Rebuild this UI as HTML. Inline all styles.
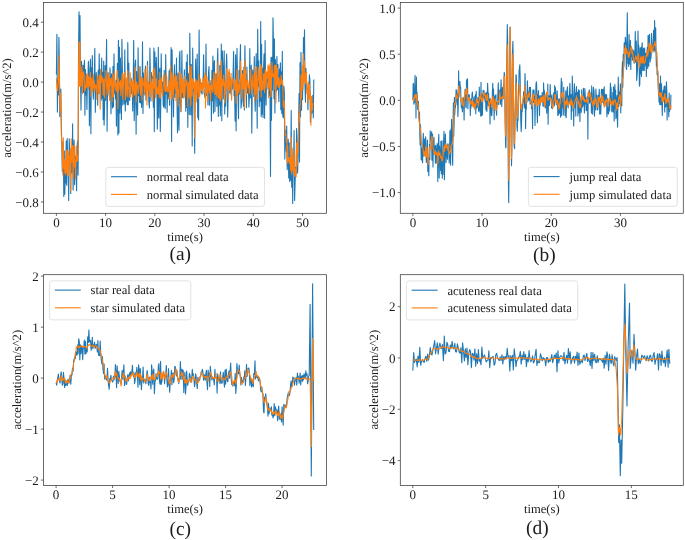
<!DOCTYPE html>
<html><head><meta charset="utf-8"><style>
html,body{margin:0;padding:0;background:#fff;overflow:hidden;}
svg{display:block;will-change:transform;}
text{font-family:"Liberation Serif", serif;fill:#1c1c1c;text-rendering:geometricPrecision;}
</style></head><body>
<svg width="685" height="540" viewBox="0 0 685 540">
<rect width="685" height="540" fill="#fff"/>
<clipPath id="c1"><rect x="43.5" y="2.5" width="283.00" height="210.80"/></clipPath>
<g clip-path="url(#c1)">
<path d="M56.4 74.6L56.9 34.2L57.4 112.1L57.9 80.7L58.4 95.0L58.9 37.2L59.4 64.3L59.8 116.6L60.3 104.8L60.8 89.1L61.3 122.2L61.8 144.2L62.3 171.2L62.8 145.4L63.3 141.9L63.8 196.4L64.3 150.7L64.8 194.3L65.3 162.5L65.8 183.0L66.2 141.1L66.7 185.2L67.2 138.5L67.7 161.6L68.2 167.1L68.7 200.4L69.2 138.8L69.7 153.5L70.2 155.9L70.7 193.4L71.2 148.4L71.7 172.6L72.2 161.8L72.6 123.9L73.1 189.9L73.6 149.2L74.1 140.0L74.6 184.7L75.1 155.9L75.6 157.9L76.1 162.5L76.6 190.7L77.1 146.1L77.6 140.9L78.1 175.1L78.5 57.8L79.0 11.7L79.5 78.9L80.0 15.5L80.5 80.3L81.0 110.1L81.5 61.4L82.0 70.8L82.5 93.5L83.0 65.4L83.5 92.4L84.0 67.4L84.5 60.4L84.9 115.1L85.4 69.6L85.9 95.0L86.4 74.1L86.9 109.5L87.4 80.0L87.9 79.6L88.4 61.4L88.9 70.1L89.4 125.7L89.9 83.1L90.4 59.3L90.9 133.7L91.3 67.8L91.8 79.5L92.3 55.5L92.8 84.8L93.3 99.2L93.8 87.2L94.3 84.3L94.8 48.3L95.3 112.2L95.8 84.8L96.3 72.6L96.8 91.0L97.3 86.7L97.7 105.2L98.2 70.2L98.7 93.5L99.2 53.9L99.7 85.3L100.2 93.2L100.7 70.0L101.2 100.2L101.7 58.0L102.2 98.2L102.7 72.3L103.2 119.6L103.7 61.1L104.1 125.1L104.6 106.6L105.1 65.6L105.6 100.3L106.1 70.2L106.6 39.6L107.1 131.3L107.6 87.8L108.1 72.8L108.6 77.3L109.1 95.2L109.6 87.3L110.0 67.7L110.5 83.1L111.0 113.7L111.5 73.7L112.0 83.4L112.5 108.0L113.0 66.3L113.5 106.7L114.0 53.7L114.5 93.5L115.0 85.8L115.5 98.9L116.0 80.3L116.4 126.1L116.9 83.9L117.4 63.2L117.9 135.0L118.4 40.3L118.9 133.1L119.4 47.1L119.9 112.9L120.4 58.1L120.9 92.5L121.4 119.6L121.9 39.4L122.4 70.7L122.8 105.1L123.3 90.4L123.8 85.3L124.3 104.0L124.8 49.7L125.3 110.9L125.8 79.6L126.3 101.6L126.8 88.6L127.3 104.6L127.8 42.6L128.3 104.7L128.8 63.1L129.2 97.5L129.7 100.4L130.2 83.6L130.7 93.2L131.2 78.2L131.7 93.6L132.2 87.1L132.7 111.0L133.2 85.1L133.7 40.3L134.2 120.8L134.7 99.4L135.2 65.0L135.6 60.1L136.1 134.3L136.6 71.5L137.1 96.4L137.6 114.9L138.1 47.7L138.6 95.5L139.1 83.8L139.6 102.5L140.1 66.5L140.6 102.9L141.1 81.9L141.6 107.4L142.0 97.4L142.5 41.9L143.0 113.5L143.5 73.1L144.0 90.2L144.5 94.7L145.0 90.9L145.5 66.0L146.0 100.2L146.5 85.2L147.0 83.4L147.5 61.2L147.9 86.3L148.4 86.4L148.9 102.6L149.4 108.0L149.9 48.1L150.4 77.4L150.9 101.1L151.4 72.6L151.9 76.2L152.4 78.2L152.9 76.9L153.4 107.3L153.9 48.0L154.3 131.6L154.8 51.8L155.3 86.4L155.8 73.7L156.3 57.2L156.8 78.4L157.3 129.1L157.8 107.2L158.3 47.2L158.8 117.9L159.3 73.4L159.8 68.1L160.3 131.5L160.7 109.8L161.2 53.7L161.7 88.4L162.2 91.8L162.7 82.1L163.2 104.8L163.7 107.2L164.2 70.4L164.7 104.6L165.2 108.6L165.7 54.5L166.2 93.9L166.7 76.7L167.1 112.3L167.6 87.5L168.1 99.0L168.6 92.2L169.1 70.8L169.6 105.3L170.1 68.7L170.6 83.5L171.1 47.6L171.6 141.5L172.1 49.7L172.6 99.4L173.1 85.4L173.5 116.8L174.0 77.6L174.5 64.7L175.0 97.5L175.5 83.5L176.0 93.5L176.5 58.1L177.0 101.4L177.5 132.7L178.0 73.0L178.5 119.3L179.0 130.2L179.4 56.2L179.9 51.3L180.4 102.3L180.9 111.8L181.4 91.4L181.9 50.5L182.4 97.4L182.9 87.4L183.4 88.2L183.9 84.9L184.4 69.8L184.9 85.0L185.4 88.9L185.8 111.3L186.3 62.4L186.8 107.5L187.3 54.6L187.8 127.3L188.3 73.2L188.8 84.9L189.3 114.5L189.8 33.2L190.3 77.5L190.8 114.9L191.3 64.3L191.8 88.3L192.2 145.9L192.7 48.0L193.2 91.1L193.7 84.0L194.2 110.5L194.7 153.3L195.2 86.9L195.7 59.1L196.2 94.5L196.7 90.8L197.2 54.0L197.7 117.6L198.2 87.6L198.6 119.9L199.1 30.0L199.6 85.8L200.1 79.1L200.6 83.8L201.1 92.4L201.6 83.1L202.1 94.3L202.6 87.3L203.1 82.4L203.6 54.8L204.1 93.5L204.6 94.4L205.0 97.6L205.5 92.1L206.0 44.0L206.5 95.6L207.0 91.0L207.5 94.1L208.0 105.0L208.5 73.2L209.0 66.5L209.5 105.2L210.0 85.6L210.5 87.6L211.0 80.6L211.4 120.9L211.9 70.4L212.4 100.8L212.9 56.0L213.4 113.2L213.9 63.6L214.4 60.6L214.9 111.6L215.4 94.3L215.9 73.8L216.4 87.9L216.9 106.5L217.3 63.0L217.8 48.5L218.3 116.5L218.8 86.4L219.3 104.9L219.8 65.2L220.3 115.8L220.8 92.8L221.3 44.0L221.8 120.7L222.3 50.7L222.8 66.6L223.3 99.0L223.7 76.7L224.2 50.7L224.7 114.0L225.2 95.1L225.7 106.1L226.2 66.9L226.7 54.1L227.2 83.4L227.7 117.1L228.2 91.0L228.7 84.7L229.2 72.2L229.7 92.9L230.1 77.6L230.6 81.2L231.1 94.8L231.6 81.7L232.1 79.8L232.6 89.1L233.1 72.9L233.6 51.3L234.1 95.8L234.6 90.9L235.1 121.0L235.6 54.8L236.1 130.7L236.5 89.6L237.0 48.4L237.5 80.3L238.0 96.5L238.5 118.7L239.0 70.4L239.5 94.0L240.0 62.1L240.5 44.5L241.0 108.3L241.5 103.5L242.0 99.1L242.5 70.5L242.9 87.2L243.4 106.3L243.9 67.0L244.4 109.9L244.9 45.8L245.4 75.6L245.9 74.5L246.4 107.8L246.9 67.0L247.4 93.2L247.9 90.4L248.4 86.1L248.9 107.1L249.3 97.9L249.8 48.6L250.3 97.9L250.8 76.7L251.3 65.2L251.8 133.1L252.3 78.2L252.8 69.9L253.3 77.5L253.8 96.4L254.3 56.6L254.8 91.7L255.2 111.2L255.7 87.0L256.2 53.6L256.7 82.7L257.2 128.2L257.7 29.2L258.2 86.2L258.7 60.7L259.2 106.6L259.7 82.6L260.2 101.1L260.7 21.5L261.2 116.6L261.6 44.5L262.1 114.1L262.6 68.3L263.1 117.4L263.6 66.5L264.1 53.8L264.6 118.3L265.1 40.5L265.6 85.4L266.1 105.1L266.6 75.9L267.1 81.7L267.6 73.4L268.0 88.7L268.5 88.5L269.0 73.5L269.5 95.3L270.0 91.5L270.5 176.5L271.0 57.5L271.5 120.3L272.0 57.0L272.5 90.1L273.0 17.7L273.5 45.9L274.0 98.6L274.4 38.7L274.9 113.0L275.4 59.6L275.9 87.7L276.4 91.4L276.9 56.6L277.4 89.7L277.9 64.5L278.4 88.1L278.9 101.6L279.4 69.1L279.9 78.3L280.4 62.7L280.8 109.7L281.3 71.9L281.8 113.4L282.3 51.3L282.8 116.1L283.3 117.9L283.8 86.1L284.3 91.5L284.8 158.9L285.3 130.2L285.8 134.7L286.3 151.3L286.7 126.0L287.2 169.6L287.7 161.3L288.2 139.3L288.7 178.0L289.2 142.8L289.7 181.4L290.2 171.1L290.7 180.3L291.2 110.6L291.7 187.3L292.2 154.2L292.7 203.4L293.1 160.0L293.6 164.6L294.1 130.5L294.6 200.4L295.1 182.2L295.6 167.4L296.1 174.3L296.6 128.6L297.1 144.9L297.6 173.0L298.1 156.6L298.6 123.4L299.1 93.4L299.5 162.0L300.0 62.6L300.5 116.8L301.0 52.2L301.5 110.2L302.0 71.7L302.5 99.6L303.0 75.4L303.5 37.6L304.0 70.3L304.5 29.7L305.0 86.6L305.5 102.3L305.9 68.4L306.4 80.5L306.9 87.9L307.4 90.3L307.9 109.8L308.4 82.9L308.9 95.2L309.4 74.7L309.9 80.4L310.4 122.2L310.9 114.3L311.4 97.9L311.9 113.3L312.3 109.1L312.8 95.4L313.3 117.8L313.8 79.5" fill="none" stroke="#1f77b4" stroke-width="1.1" stroke-linejoin="round" stroke-linecap="butt"/>
<path d="M56.4 78.0L56.9 87.1L57.4 90.8L57.9 86.0L58.4 82.8L58.9 55.1L59.4 76.7L59.8 100.8L60.3 111.9L60.8 93.0L61.3 134.6L61.8 141.0L62.3 155.0L62.8 174.8L63.3 137.9L63.8 168.1L64.3 158.9L64.8 172.9L65.3 161.5L65.8 175.0L66.2 151.0L66.7 172.2L67.2 149.7L67.7 175.6L68.2 152.1L68.7 175.9L69.2 156.3L69.7 161.7L70.2 149.0L70.7 191.1L71.2 138.9L71.7 162.3L72.2 156.9L72.6 145.4L73.1 177.5L73.6 154.7L74.1 145.1L74.6 167.0L75.1 160.1L75.6 178.9L76.1 146.3L76.6 161.8L77.1 155.2L77.6 160.8L78.1 154.1L78.5 71.2L79.0 41.7L79.5 86.3L80.0 42.3L80.5 86.7L81.0 85.5L81.5 73.5L82.0 66.3L82.5 93.8L83.0 74.6L83.5 71.7L84.0 74.7L84.5 86.1L84.9 91.0L85.4 88.7L85.9 84.8L86.4 74.0L86.9 87.4L87.4 83.2L87.9 74.7L88.4 89.2L88.9 76.9L89.4 86.2L89.9 81.9L90.4 72.2L90.9 96.2L91.3 84.3L91.8 78.1L92.3 87.1L92.8 92.1L93.3 74.4L93.8 87.6L94.3 81.0L94.8 91.1L95.3 84.7L95.8 87.1L96.3 85.5L96.8 99.5L97.3 76.4L97.7 79.9L98.2 82.4L98.7 92.9L99.2 74.9L99.7 78.4L100.2 109.2L100.7 69.0L101.2 83.0L101.7 75.9L102.2 77.2L102.7 81.1L103.2 95.3L103.7 78.7L104.1 88.8L104.6 97.8L105.1 78.5L105.6 80.9L106.1 70.5L106.6 85.9L107.1 94.8L107.6 83.9L108.1 72.6L108.6 90.2L109.1 75.4L109.6 100.5L110.0 78.2L110.5 85.4L111.0 84.1L111.5 78.1L112.0 102.0L112.5 90.3L113.0 74.0L113.5 96.8L114.0 87.4L114.5 71.3L115.0 86.4L115.5 86.7L116.0 90.4L116.4 83.6L116.9 91.9L117.4 70.5L117.9 108.8L118.4 78.0L118.9 90.0L119.4 83.6L119.9 82.5L120.4 80.6L120.9 95.6L121.4 87.8L121.9 78.5L122.4 73.1L122.8 99.2L123.3 87.0L123.8 73.5L124.3 77.3L124.8 72.4L125.3 100.1L125.8 82.7L126.3 77.7L126.8 94.6L127.3 96.9L127.8 70.5L128.3 86.6L128.8 89.4L129.2 97.4L129.7 92.4L130.2 72.8L130.7 96.5L131.2 81.4L131.7 84.9L132.2 81.9L132.7 96.8L133.2 79.8L133.7 85.3L134.2 91.9L134.7 95.1L135.2 67.1L135.6 85.7L136.1 102.1L136.6 81.8L137.1 88.1L137.6 85.3L138.1 93.6L138.6 88.4L139.1 83.3L139.6 67.1L140.1 86.0L140.6 95.0L141.1 78.6L141.6 77.3L142.0 100.1L142.5 78.0L143.0 80.3L143.5 84.9L144.0 83.7L144.5 95.0L145.0 69.0L145.5 77.0L146.0 92.6L146.5 82.9L147.0 104.9L147.5 65.5L147.9 90.6L148.4 81.5L148.9 86.1L149.4 96.7L149.9 89.6L150.4 72.9L150.9 96.9L151.4 82.1L151.9 87.0L152.4 84.0L152.9 100.9L153.4 69.6L153.9 81.5L154.3 88.2L154.8 67.9L155.3 95.4L155.8 97.9L156.3 78.2L156.8 89.7L157.3 93.6L157.8 87.5L158.3 94.0L158.8 80.5L159.3 97.1L159.8 72.4L160.3 98.3L160.7 93.2L161.2 78.1L161.7 90.5L162.2 89.6L162.7 95.8L163.2 82.3L163.7 75.7L164.2 75.6L164.7 89.1L165.2 91.7L165.7 88.1L166.2 72.9L166.7 91.5L167.1 92.1L167.6 88.5L168.1 86.8L168.6 91.4L169.1 81.4L169.6 98.7L170.1 80.1L170.6 65.5L171.1 89.4L171.6 99.9L172.1 72.8L172.6 86.0L173.1 98.4L173.5 89.2L174.0 76.0L174.5 83.8L175.0 89.0L175.5 73.8L176.0 100.8L176.5 76.2L177.0 94.2L177.5 81.9L178.0 106.3L178.5 89.5L179.0 96.9L179.4 71.9L179.9 77.0L180.4 81.5L180.9 111.2L181.4 73.8L181.9 84.5L182.4 92.7L182.9 79.1L183.4 96.8L183.9 98.4L184.4 75.8L184.9 96.4L185.4 85.0L185.8 85.8L186.3 80.5L186.8 79.8L187.3 88.8L187.8 106.8L188.3 82.3L188.8 89.9L189.3 98.0L189.8 65.5L190.3 91.8L190.8 105.5L191.3 66.5L191.8 91.2L192.2 96.1L192.7 79.0L193.2 83.0L193.7 88.8L194.2 82.0L194.7 137.5L195.2 85.5L195.7 79.1L196.2 101.9L196.7 81.7L197.2 80.7L197.7 90.3L198.2 98.6L198.6 74.0L199.1 81.1L199.6 96.5L200.1 92.6L200.6 79.7L201.1 87.0L201.6 90.9L202.1 83.7L202.6 92.0L203.1 77.8L203.6 87.8L204.1 84.5L204.6 79.8L205.0 72.6L205.5 107.9L206.0 75.7L206.5 92.6L207.0 76.7L207.5 100.7L208.0 88.4L208.5 81.0L209.0 89.4L209.5 93.0L210.0 85.0L210.5 100.8L211.0 86.1L211.4 89.7L211.9 79.2L212.4 91.2L212.9 92.6L213.4 86.8L213.9 72.1L214.4 79.5L214.9 94.5L215.4 94.2L215.9 73.6L216.4 93.7L216.9 96.6L217.3 81.3L217.8 61.8L218.3 97.4L218.8 77.3L219.3 99.0L219.8 71.1L220.3 101.3L220.8 85.3L221.3 60.4L221.8 98.8L222.3 85.4L222.8 79.4L223.3 85.1L223.7 75.1L224.2 87.4L224.7 103.0L225.2 81.1L225.7 88.1L226.2 80.2L226.7 68.2L227.2 88.4L227.7 86.9L228.2 99.0L228.7 72.5L229.2 69.4L229.7 90.5L230.1 84.9L230.6 84.0L231.1 73.3L231.6 100.1L232.1 80.0L232.6 81.4L233.1 78.3L233.6 84.5L234.1 82.4L234.6 89.7L235.1 90.2L235.6 79.7L236.1 103.1L236.5 80.2L237.0 69.4L237.5 95.5L238.0 84.3L238.5 85.3L239.0 93.1L239.5 79.8L240.0 88.9L240.5 61.3L241.0 76.4L241.5 83.3L242.0 98.9L242.5 74.1L242.9 87.4L243.4 88.7L243.9 68.4L244.4 107.8L244.9 60.8L245.4 87.7L245.9 70.3L246.4 94.4L246.9 86.5L247.4 80.5L247.9 80.7L248.4 87.6L248.9 85.1L249.3 93.4L249.8 90.7L250.3 69.3L250.8 80.9L251.3 81.8L251.8 94.6L252.3 74.5L252.8 89.3L253.3 85.7L253.8 84.3L254.3 66.9L254.8 101.8L255.2 72.8L255.7 94.5L256.2 81.9L256.7 66.9L257.2 99.0L257.7 80.4L258.2 79.3L258.7 67.8L259.2 81.8L259.7 90.7L260.2 80.0L260.7 64.1L261.2 97.1L261.6 66.6L262.1 89.6L262.6 81.6L263.1 89.4L263.6 73.9L264.1 74.0L264.6 92.5L265.1 71.4L265.6 69.3L266.1 88.1L266.6 71.9L267.1 73.7L267.6 78.2L268.0 64.9L268.5 97.7L269.0 66.2L269.5 87.8L270.0 63.9L270.5 69.0L271.0 96.6L271.5 84.6L272.0 62.2L272.5 76.2L273.0 76.7L273.5 73.9L274.0 77.5L274.4 65.6L274.9 88.9L275.4 65.1L275.9 102.8L276.4 65.2L276.9 85.2L277.4 68.6L277.9 82.5L278.4 87.5L278.9 77.5L279.4 86.8L279.9 82.9L280.4 84.7L280.8 80.7L281.3 75.1L281.8 83.8L282.3 80.4L282.8 87.3L283.3 107.2L283.8 100.7L284.3 101.9L284.8 123.8L285.3 135.5L285.8 133.7L286.3 142.2L286.7 138.8L287.2 163.1L287.7 145.8L288.2 160.9L288.7 157.6L289.2 163.3L289.7 158.1L290.2 161.3L290.7 170.4L291.2 137.0L291.7 174.4L292.2 148.1L292.7 164.2L293.1 171.9L293.6 163.8L294.1 150.9L294.6 176.0L295.1 169.4L295.6 168.7L296.1 176.9L296.6 143.0L297.1 165.9L297.6 140.2L298.1 152.8L298.6 132.1L299.1 113.5L299.5 121.2L300.0 104.5L300.5 104.8L301.0 74.9L301.5 98.0L302.0 74.6L302.5 65.6L303.0 89.5L303.5 54.0L304.0 83.3L304.5 61.1L305.0 82.1L305.5 83.3L305.9 73.6L306.4 72.6L306.9 93.5L307.4 89.7L307.9 103.7L308.4 82.1L308.9 99.6L309.4 84.3L309.9 98.3L310.4 93.2L310.9 125.3L311.4 96.4L311.9 98.3L312.3 110.8L312.8 104.5L313.3 103.7L313.8 103.8" fill="none" stroke="#ff7f0e" stroke-width="1.1" stroke-linejoin="round" stroke-linecap="butt"/>
</g>
<rect x="105.8" y="167.4" width="158.67" height="39.0" rx="2.5" fill="#fff" fill-opacity="0.8" stroke="#dadada" stroke-width="0.8"/>
<line x1="111.0" y1="176.70" x2="137.0" y2="176.70" stroke="#1f77b4" stroke-width="1.1"/>
<text x="146.8" y="181.00" font-size="12.6">normal real data</text>
<line x1="111.0" y1="194.40" x2="137.0" y2="194.40" stroke="#ff7f0e" stroke-width="1.1"/>
<text x="146.8" y="198.70" font-size="12.6">normal simulated data</text>
<rect x="43.5" y="2.5" width="283.00" height="210.80" fill="none" stroke="#3a3a3a" stroke-width="0.75"/>
<line x1="56.40" y1="213.3" x2="56.40" y2="215.90" stroke="#3a3a3a" stroke-width="0.75"/>
<text x="56.40" y="226.70" font-size="13.0" text-anchor="middle">0</text>
<line x1="105.62" y1="213.3" x2="105.62" y2="215.90" stroke="#3a3a3a" stroke-width="0.75"/>
<text x="105.62" y="226.70" font-size="13.0" text-anchor="middle">10</text>
<line x1="154.84" y1="213.3" x2="154.84" y2="215.90" stroke="#3a3a3a" stroke-width="0.75"/>
<text x="154.84" y="226.70" font-size="13.0" text-anchor="middle">20</text>
<line x1="204.06" y1="213.3" x2="204.06" y2="215.90" stroke="#3a3a3a" stroke-width="0.75"/>
<text x="204.06" y="226.70" font-size="13.0" text-anchor="middle">30</text>
<line x1="253.28" y1="213.3" x2="253.28" y2="215.90" stroke="#3a3a3a" stroke-width="0.75"/>
<text x="253.28" y="226.70" font-size="13.0" text-anchor="middle">40</text>
<line x1="302.50" y1="213.3" x2="302.50" y2="215.90" stroke="#3a3a3a" stroke-width="0.75"/>
<text x="302.50" y="226.70" font-size="13.0" text-anchor="middle">50</text>
<line x1="40.90" y1="22.18" x2="43.5" y2="22.18" stroke="#3a3a3a" stroke-width="0.75"/>
<text x="38.80" y="26.78" font-size="13.0" text-anchor="end">0.4</text>
<line x1="40.90" y1="52.14" x2="43.5" y2="52.14" stroke="#3a3a3a" stroke-width="0.75"/>
<text x="38.80" y="56.74" font-size="13.0" text-anchor="end">0.2</text>
<line x1="40.90" y1="82.10" x2="43.5" y2="82.10" stroke="#3a3a3a" stroke-width="0.75"/>
<text x="38.80" y="86.70" font-size="13.0" text-anchor="end">0.0</text>
<line x1="40.90" y1="112.06" x2="43.5" y2="112.06" stroke="#3a3a3a" stroke-width="0.75"/>
<text x="38.80" y="116.66" font-size="13.0" text-anchor="end">−0.2</text>
<line x1="40.90" y1="142.02" x2="43.5" y2="142.02" stroke="#3a3a3a" stroke-width="0.75"/>
<text x="38.80" y="146.62" font-size="13.0" text-anchor="end">−0.4</text>
<line x1="40.90" y1="171.98" x2="43.5" y2="171.98" stroke="#3a3a3a" stroke-width="0.75"/>
<text x="38.80" y="176.58" font-size="13.0" text-anchor="end">−0.6</text>
<line x1="40.90" y1="201.94" x2="43.5" y2="201.94" stroke="#3a3a3a" stroke-width="0.75"/>
<text x="38.80" y="206.54" font-size="13.0" text-anchor="end">−0.8</text>
<text x="185" y="241.0" font-size="12.6" text-anchor="middle">time(s)</text>
<text transform="translate(10.8 108.0) rotate(-90)" font-size="12.6" text-anchor="middle">acceleration(m/s^2)</text>
<text x="180.3" y="260.3" font-size="19.4" text-anchor="middle">(a)</text>
<clipPath id="c2"><rect x="400.3" y="2.5" width="283.00" height="210.80"/></clipPath>
<g clip-path="url(#c2)">
<path d="M412.9 99.9L413.2 83.3L413.6 84.1L413.9 104.2L414.3 100.8L414.6 102.8L415.0 75.4L415.3 96.4L415.7 86.8L416.0 117.9L416.4 77.0L416.7 99.2L417.1 92.2L417.4 104.3L417.7 109.5L418.1 102.5L418.4 101.2L418.8 116.6L419.1 119.1L419.5 112.0L419.8 134.1L420.2 145.2L420.5 124.6L420.9 141.0L421.2 159.9L421.5 149.1L421.9 147.8L422.2 157.9L422.6 162.7L422.9 143.7L423.3 133.3L423.6 148.7L424.0 156.1L424.3 142.3L424.7 138.7L425.0 152.7L425.4 142.5L425.7 136.9L426.0 153.8L426.4 162.4L426.7 148.1L427.1 150.2L427.4 140.0L427.8 171.5L428.1 164.2L428.5 165.4L428.8 175.8L429.2 150.6L429.5 144.3L429.8 159.5L430.2 130.9L430.5 137.0L430.9 138.4L431.2 140.1L431.6 131.8L431.9 160.2L432.3 133.9L432.6 135.2L433.0 166.9L433.3 140.7L433.7 149.6L434.0 137.4L434.3 154.3L434.7 149.9L435.0 146.4L435.4 163.3L435.7 145.3L436.1 155.5L436.4 148.9L436.8 163.2L437.1 143.5L437.5 149.7L437.8 181.5L438.1 149.4L438.5 141.3L438.8 134.4L439.2 177.9L439.5 146.1L439.9 151.5L440.2 158.8L440.6 170.5L440.9 141.3L441.3 173.8L441.6 150.2L442.0 140.7L442.3 178.2L442.6 161.5L443.0 174.5L443.3 154.4L443.7 138.0L444.0 131.4L444.4 179.7L444.7 163.4L445.1 146.1L445.4 134.0L445.8 148.2L446.1 162.4L446.4 148.2L446.8 151.4L447.1 153.1L447.5 159.1L447.8 143.8L448.2 144.1L448.5 148.5L448.9 149.3L449.2 163.1L449.6 152.8L449.9 130.9L450.3 148.9L450.6 165.1L450.9 129.2L451.3 139.6L451.6 119.2L452.0 145.7L452.3 152.4L452.7 165.2L453.0 129.4L453.4 102.9L453.7 136.3L454.1 123.7L454.4 97.3L454.7 114.9L455.1 107.2L455.4 107.5L455.8 100.4L456.1 89.5L456.5 101.3L456.8 90.8L457.2 104.8L457.5 94.2L457.9 116.5L458.2 106.8L458.6 70.8L458.9 96.7L459.2 86.2L459.6 87.9L459.9 81.4L460.3 88.0L460.6 87.3L461.0 100.1L461.3 107.4L461.7 107.8L462.0 105.3L462.4 111.8L462.7 105.9L463.0 101.3L463.4 97.8L463.7 103.8L464.1 119.9L464.4 101.1L464.8 98.1L465.1 89.3L465.5 94.5L465.8 106.9L466.2 107.7L466.5 79.9L466.9 92.7L467.2 81.8L467.5 78.7L467.9 108.7L468.2 96.4L468.6 95.7L468.9 94.7L469.3 94.9L469.6 98.3L470.0 98.6L470.3 115.6L470.7 102.0L471.0 107.9L471.3 99.1L471.7 105.1L472.0 94.1L472.4 92.0L472.7 97.2L473.1 97.1L473.4 99.4L473.8 104.9L474.1 102.0L474.5 105.4L474.8 96.4L475.2 100.2L475.5 94.5L475.8 113.8L476.2 91.3L476.5 108.1L476.9 107.8L477.2 102.4L477.6 106.1L477.9 97.4L478.3 106.2L478.6 111.2L479.0 108.9L479.3 87.0L479.6 99.9L480.0 112.2L480.3 100.3L480.7 116.1L481.0 82.2L481.4 115.8L481.7 95.5L482.1 94.8L482.4 115.1L482.8 97.3L483.1 90.2L483.5 95.6L483.8 97.7L484.1 90.7L484.5 98.7L484.8 96.9L485.2 101.6L485.5 93.9L485.9 109.9L486.2 92.3L486.6 105.5L486.9 111.4L487.3 96.6L487.6 83.2L487.9 90.6L488.3 105.6L488.6 93.3L489.0 105.0L489.3 101.6L489.7 99.4L490.0 123.9L490.4 98.4L490.7 110.8L491.1 107.4L491.4 115.3L491.8 115.7L492.1 109.9L492.4 92.0L492.8 83.4L493.1 100.6L493.5 89.3L493.8 103.0L494.2 119.8L494.5 98.8L494.9 95.8L495.2 104.7L495.6 97.3L495.9 94.5L496.2 109.1L496.6 115.3L496.9 102.6L497.3 102.5L497.6 103.9L498.0 90.3L498.3 82.8L498.7 104.6L499.0 93.3L499.4 90.8L499.7 93.1L500.1 89.7L500.4 104.3L500.7 92.8L501.1 79.8L501.4 92.2L501.8 106.6L502.1 94.2L502.5 87.5L502.8 96.6L503.2 99.0L503.5 84.6L503.9 84.0L504.2 72.3L504.6 74.8L504.9 99.2L505.2 122.6L505.6 146.1L505.9 147.9L506.3 115.6L506.6 78.6L507.0 46.4L507.3 24.6L507.7 42.4L508.0 110.9L508.4 181.9L508.7 202.6L509.0 171.7L509.4 115.8L509.7 53.5L510.1 27.0L510.4 37.8L510.8 79.4L511.1 134.9L511.5 165.8L511.8 151.5L512.2 102.6L512.5 51.9L512.9 41.3L513.2 64.6L513.5 96.9L513.9 132.8L514.2 146.5L514.6 148.6L514.9 124.8L515.3 109.2L515.6 91.9L516.0 74.7L516.3 75.2L516.7 95.8L517.0 127.2L517.3 131.3L517.7 116.5L518.0 120.4L518.4 100.5L518.7 86.5L519.1 71.2L519.4 68.5L519.8 64.7L520.1 75.0L520.5 103.9L520.8 120.7L521.2 131.6L521.5 124.7L521.8 108.8L522.2 111.6L522.5 105.5L522.9 100.7L523.2 100.8L523.6 91.8L523.9 99.0L524.3 108.0L524.6 98.2L525.0 73.6L525.3 87.4L525.6 128.6L526.0 101.8L526.3 109.2L526.7 94.0L527.0 102.1L527.4 80.7L527.7 90.9L528.1 91.3L528.4 98.5L528.8 100.8L529.1 96.9L529.5 87.2L529.8 94.9L530.1 103.9L530.5 87.4L530.8 98.4L531.2 101.1L531.5 108.4L531.9 106.1L532.2 106.8L532.6 128.7L532.9 90.0L533.3 94.6L533.6 102.5L533.9 89.7L534.3 95.9L534.6 96.6L535.0 125.5L535.3 102.7L535.7 94.9L536.0 84.0L536.4 81.7L536.7 85.9L537.1 112.1L537.4 122.7L537.8 94.6L538.1 100.1L538.4 90.6L538.8 101.6L539.1 98.1L539.5 115.6L539.8 95.8L540.2 104.9L540.5 96.8L540.9 95.7L541.2 101.5L541.6 97.1L541.9 100.5L542.2 92.6L542.6 95.3L542.9 105.9L543.3 106.3L543.6 82.7L544.0 101.4L544.3 90.3L544.7 96.4L545.0 106.1L545.4 108.0L545.7 99.1L546.1 97.7L546.4 94.1L546.7 113.2L547.1 106.4L547.4 101.3L547.8 84.1L548.1 124.3L548.5 95.9L548.8 105.8L549.2 96.0L549.5 105.3L549.9 96.7L550.2 84.5L550.5 96.8L550.9 96.0L551.2 96.6L551.6 108.0L551.9 94.8L552.3 102.5L552.6 108.6L553.0 100.7L553.3 102.7L553.7 92.7L554.0 100.8L554.4 105.7L554.7 85.6L555.0 90.3L555.4 87.5L555.7 94.2L556.1 101.5L556.4 104.6L556.8 103.2L557.1 90.7L557.5 99.2L557.8 115.4L558.2 100.7L558.5 114.7L558.8 98.7L559.2 112.6L559.5 113.2L559.9 99.1L560.2 101.1L560.6 117.2L560.9 92.8L561.3 78.4L561.6 115.4L562.0 81.9L562.3 107.3L562.7 105.4L563.0 102.2L563.3 115.0L563.7 87.2L564.0 95.4L564.4 108.0L564.7 103.2L565.1 115.7L565.4 103.9L565.8 90.8L566.1 117.8L566.5 104.8L566.8 98.9L567.1 89.7L567.5 86.7L567.8 105.0L568.2 107.9L568.5 95.8L568.9 104.0L569.2 103.5L569.6 89.4L569.9 83.2L570.3 97.7L570.6 102.3L571.0 94.6L571.3 119.5L571.6 100.5L572.0 111.1L572.3 76.1L572.7 93.0L573.0 98.9L573.4 102.3L573.7 125.9L574.1 93.1L574.4 83.8L574.8 107.7L575.1 93.4L575.4 93.0L575.8 116.1L576.1 90.9L576.5 86.6L576.8 98.0L577.2 101.0L577.5 92.4L577.9 116.0L578.2 99.4L578.6 89.7L578.9 113.0L579.3 90.3L579.6 104.6L579.9 121.5L580.3 101.4L580.6 110.2L581.0 97.1L581.3 112.2L581.7 89.7L582.0 107.8L582.4 96.7L582.7 106.4L583.1 103.6L583.4 88.3L583.7 98.2L584.1 104.4L584.4 113.0L584.8 88.6L585.1 92.9L585.5 103.7L585.8 97.9L586.2 110.8L586.5 110.6L586.9 108.7L587.2 96.8L587.6 97.3L587.9 139.1L588.2 92.9L588.6 92.4L588.9 98.6L589.3 89.8L589.6 103.3L590.0 101.5L590.3 95.6L590.7 100.7L591.0 92.3L591.4 113.1L591.7 85.9L592.1 108.3L592.4 102.0L592.7 114.3L593.1 94.3L593.4 87.4L593.8 89.5L594.1 91.9L594.5 116.2L594.8 108.3L595.2 105.0L595.5 109.8L595.9 89.0L596.2 98.5L596.5 100.6L596.9 95.4L597.2 110.0L597.6 109.6L597.9 109.3L598.3 95.3L598.6 96.9L599.0 94.5L599.3 89.4L599.7 114.1L600.0 106.0L600.4 98.9L600.7 114.0L601.0 105.8L601.4 90.1L601.7 89.2L602.1 89.4L602.4 99.9L602.8 102.5L603.1 89.4L603.5 104.1L603.8 96.9L604.2 86.9L604.5 104.1L604.8 106.5L605.2 100.4L605.5 94.3L605.9 95.5L606.2 98.8L606.6 94.7L606.9 116.6L607.3 109.1L607.6 98.7L608.0 109.8L608.3 114.0L608.7 112.6L609.0 109.7L609.3 102.2L609.7 110.7L610.0 98.0L610.4 83.1L610.7 101.8L611.1 87.4L611.4 97.4L611.8 111.7L612.1 103.0L612.5 110.3L612.8 92.6L613.1 112.1L613.5 86.9L613.8 94.5L614.2 120.9L614.5 92.4L614.9 84.6L615.2 108.4L615.6 90.4L615.9 118.6L616.3 97.8L616.6 117.2L617.0 95.5L617.3 118.5L617.6 127.1L618.0 96.3L618.3 77.1L618.7 106.4L619.0 91.9L619.4 99.2L619.7 103.6L620.1 94.1L620.4 83.7L620.8 112.9L621.1 94.6L621.4 92.2L621.8 105.8L622.1 69.8L622.5 61.6L622.8 87.3L623.2 54.4L623.5 67.5L623.9 65.2L624.2 42.8L624.6 51.8L624.9 50.4L625.3 37.2L625.6 39.2L625.9 43.1L626.3 67.8L626.6 69.4L627.0 39.4L627.3 12.7L627.7 50.0L628.0 63.8L628.4 54.2L628.7 66.5L629.1 34.6L629.4 64.1L629.7 54.4L630.1 55.4L630.4 40.2L630.8 69.5L631.1 54.4L631.5 56.5L631.8 48.6L632.2 49.5L632.5 60.1L632.9 52.5L633.2 59.5L633.6 50.4L633.9 57.0L634.2 63.3L634.6 56.6L634.9 52.4L635.3 31.5L635.6 62.2L636.0 53.6L636.3 41.0L636.7 80.4L637.0 76.8L637.4 70.9L637.7 59.2L638.0 31.1L638.4 54.0L638.7 45.1L639.1 61.1L639.4 86.1L639.8 84.6L640.1 47.9L640.5 57.3L640.8 73.9L641.2 47.4L641.5 76.5L641.9 46.7L642.2 42.9L642.5 67.1L642.9 70.6L643.2 48.8L643.6 69.9L643.9 48.0L644.3 70.5L644.6 48.1L645.0 55.7L645.3 61.2L645.7 66.1L646.0 53.3L646.3 76.6L646.7 58.4L647.0 59.4L647.4 47.3L647.7 68.4L648.1 35.3L648.4 57.3L648.8 66.1L649.1 37.8L649.5 34.3L649.8 54.5L650.2 61.9L650.5 51.5L650.8 58.9L651.2 54.4L651.5 33.3L651.9 45.8L652.2 48.2L652.6 45.6L652.9 49.7L653.3 39.4L653.6 30.2L654.0 52.0L654.3 46.4L654.6 20.5L655.0 42.2L655.3 50.7L655.7 27.9L656.0 52.3L656.4 66.3L656.7 52.0L657.1 74.5L657.4 75.2L657.8 71.4L658.1 81.6L658.5 93.7L658.8 96.5L659.1 102.2L659.5 83.7L659.8 104.7L660.2 103.6L660.5 76.1L660.9 104.6L661.2 83.2L661.6 85.7L661.9 102.0L662.3 115.5L662.6 95.7L662.9 93.4L663.3 90.4L663.6 99.9L664.0 88.1L664.3 86.2L664.7 112.0L665.0 86.0L665.4 99.2L665.7 107.0L666.1 104.5L666.4 81.7L666.8 91.1L667.1 120.0L667.4 100.6L667.8 103.0L668.1 103.4L668.5 107.0L668.8 116.7L669.2 93.0L669.5 111.5L669.9 105.8L670.2 108.2L670.6 109.5L670.9 94.7" fill="none" stroke="#1f77b4" stroke-width="1.1" stroke-linejoin="round" stroke-linecap="butt"/>
<path d="M412.9 97.6L413.2 97.7L413.6 99.7L413.9 100.9L414.3 98.2L414.6 96.0L415.0 94.6L415.3 94.5L415.7 98.0L416.0 95.2L416.4 101.3L416.7 94.1L417.1 101.1L417.4 104.9L417.7 102.7L418.1 104.9L418.4 108.5L418.8 114.5L419.1 121.8L419.5 123.1L419.8 123.5L420.2 130.3L420.5 128.7L420.9 136.6L421.2 142.7L421.5 142.9L421.9 145.0L422.2 144.6L422.6 147.6L422.9 148.3L423.3 151.4L423.6 153.6L424.0 154.9L424.3 155.4L424.7 151.4L425.0 152.1L425.4 156.3L425.7 146.6L426.0 152.2L426.4 156.9L426.7 151.9L427.1 147.6L427.4 155.0L427.8 160.7L428.1 164.6L428.5 158.6L428.8 157.3L429.2 156.4L429.5 153.0L429.8 146.3L430.2 149.5L430.5 146.9L430.9 149.7L431.2 140.2L431.6 137.3L431.9 136.0L432.3 138.3L432.6 139.6L433.0 148.6L433.3 148.5L433.7 149.8L434.0 153.7L434.3 154.0L434.7 154.3L435.0 152.5L435.4 150.6L435.7 152.0L436.1 154.8L436.4 154.6L436.8 155.0L437.1 152.7L437.5 156.3L437.8 164.3L438.1 161.7L438.5 150.9L438.8 153.1L439.2 155.2L439.5 154.7L439.9 152.8L440.2 155.0L440.6 156.9L440.9 158.2L441.3 156.1L441.6 158.1L442.0 161.1L442.3 160.2L442.6 159.8L443.0 156.5L443.3 154.0L443.7 149.9L444.0 146.3L444.4 151.0L444.7 151.3L445.1 143.7L445.4 145.4L445.8 147.9L446.1 147.4L446.4 144.6L446.8 145.5L447.1 147.2L447.5 147.4L447.8 150.5L448.2 145.2L448.5 146.7L448.9 152.8L449.2 151.9L449.6 153.8L449.9 152.6L450.3 151.0L450.6 151.8L450.9 145.9L451.3 145.9L451.6 144.9L452.0 143.9L452.3 144.2L452.7 142.0L453.0 139.8L453.4 129.9L453.7 123.1L454.1 112.4L454.4 105.4L454.7 103.2L455.1 104.6L455.4 102.5L455.8 101.5L456.1 94.6L456.5 97.4L456.8 98.5L457.2 97.5L457.5 97.3L457.9 95.7L458.2 92.3L458.6 86.1L458.9 86.1L459.2 92.2L459.6 94.4L459.9 93.3L460.3 96.7L460.6 100.7L461.0 102.0L461.3 100.2L461.7 99.8L462.0 100.5L462.4 97.5L462.7 101.7L463.0 106.1L463.4 104.9L463.7 106.0L464.1 101.7L464.4 95.6L464.8 98.5L465.1 91.0L465.5 90.5L465.8 93.7L466.2 94.1L466.5 87.9L466.9 88.7L467.2 92.3L467.5 94.7L467.9 101.0L468.2 100.5L468.6 99.1L468.9 97.8L469.3 97.4L469.6 101.3L470.0 99.2L470.3 103.4L470.7 101.4L471.0 104.6L471.3 102.5L471.7 102.8L472.0 100.7L472.4 101.0L472.7 106.2L473.1 107.1L473.4 104.7L473.8 101.8L474.1 106.1L474.5 109.2L474.8 107.9L475.2 104.2L475.5 105.9L475.8 105.2L476.2 102.3L476.5 98.8L476.9 98.9L477.2 102.5L477.6 100.9L477.9 101.8L478.3 106.1L478.6 103.3L479.0 100.8L479.3 100.9L479.6 96.9L480.0 97.6L480.3 98.6L480.7 93.9L481.0 96.0L481.4 99.5L481.7 101.9L482.1 98.6L482.4 101.8L482.8 100.8L483.1 97.4L483.5 93.8L483.8 92.1L484.1 92.5L484.5 95.4L484.8 95.4L485.2 95.2L485.5 98.7L485.9 94.8L486.2 96.7L486.6 100.7L486.9 97.9L487.3 97.6L487.6 94.2L487.9 100.4L488.3 100.6L488.6 104.1L489.0 104.9L489.3 108.9L489.7 102.0L490.0 102.5L490.4 103.1L490.7 98.6L491.1 102.2L491.4 102.1L491.8 107.1L492.1 103.0L492.4 100.1L492.8 97.0L493.1 96.4L493.5 102.7L493.8 108.6L494.2 109.7L494.5 104.0L494.9 100.2L495.2 98.9L495.6 104.7L495.9 110.5L496.2 110.2L496.6 108.9L496.9 107.5L497.3 103.2L497.6 101.5L498.0 101.8L498.3 102.6L498.7 100.6L499.0 100.2L499.4 98.6L499.7 91.7L500.1 96.1L500.4 96.8L500.7 99.2L501.1 98.1L501.4 97.5L501.8 97.7L502.1 98.3L502.5 96.3L502.8 98.1L503.2 98.5L503.5 94.0L503.9 82.1L504.2 76.2L504.6 77.1L504.9 95.3L505.2 120.7L505.6 135.9L505.9 136.5L506.3 116.2L506.6 85.6L507.0 58.9L507.3 44.7L507.7 59.7L508.0 109.9L508.4 163.9L508.7 180.5L509.0 154.5L509.4 103.0L509.7 53.7L510.1 27.4L510.4 39.5L510.8 81.6L511.1 129.2L511.5 158.5L511.8 151.0L512.2 105.7L512.5 61.1L512.9 54.4L513.2 71.6L513.5 100.6L513.9 128.0L514.2 144.0L514.6 140.0L514.9 128.0L515.3 110.9L515.6 95.0L516.0 84.7L516.3 83.1L516.7 96.9L517.0 113.2L517.3 118.1L517.7 115.2L518.0 110.1L518.4 105.8L518.7 96.4L519.1 90.4L519.4 85.4L519.8 84.7L520.1 89.9L520.5 99.0L520.8 107.6L521.2 109.4L521.5 109.0L521.8 104.4L522.2 103.7L522.5 102.6L522.9 101.4L523.2 98.4L523.6 97.1L523.9 96.7L524.3 95.4L524.6 93.9L525.0 85.4L525.3 95.6L525.6 99.6L526.0 104.0L526.3 101.9L526.7 100.7L527.0 93.7L527.4 96.8L527.7 97.7L528.1 97.1L528.4 97.1L528.8 93.3L529.1 91.9L529.5 93.3L529.8 96.8L530.1 97.0L530.5 98.5L530.8 102.1L531.2 103.1L531.5 103.6L531.9 104.2L532.2 107.0L532.6 99.9L532.9 97.9L533.3 94.0L533.6 97.5L533.9 100.9L534.3 100.2L534.6 102.7L535.0 104.3L535.3 104.0L535.7 96.4L536.0 93.9L536.4 96.3L536.7 100.0L537.1 105.5L537.4 104.8L537.8 106.0L538.1 101.4L538.4 99.2L538.8 99.0L539.1 104.2L539.5 104.4L539.8 103.5L540.2 99.6L540.5 97.5L540.9 98.5L541.2 102.5L541.6 98.0L541.9 97.1L542.2 96.6L542.6 97.3L542.9 102.5L543.3 101.4L543.6 99.5L544.0 94.9L544.3 97.2L544.7 106.7L545.0 106.4L545.4 103.8L545.7 98.6L546.1 96.0L546.4 92.2L546.7 92.9L547.1 93.6L547.4 91.5L547.8 100.2L548.1 97.9L548.5 99.8L548.8 99.4L549.2 99.1L549.5 97.8L549.9 98.6L550.2 98.0L550.5 98.6L550.9 98.9L551.2 101.3L551.6 99.4L551.9 105.4L552.3 104.4L552.6 108.1L553.0 106.8L553.3 101.6L553.7 100.8L554.0 101.0L554.4 99.7L554.7 94.2L555.0 96.8L555.4 95.1L555.7 101.2L556.1 103.2L556.4 102.6L556.8 103.1L557.1 100.7L557.5 99.7L557.8 104.4L558.2 105.3L558.5 103.8L558.8 109.4L559.2 107.2L559.5 107.7L559.9 101.0L560.2 104.0L560.6 98.1L560.9 98.3L561.3 93.2L561.6 92.9L562.0 96.6L562.3 95.1L562.7 96.8L563.0 95.9L563.3 92.1L563.7 95.7L564.0 99.9L564.4 108.5L564.7 108.7L565.1 104.1L565.4 101.2L565.8 101.1L566.1 102.4L566.5 104.7L566.8 101.5L567.1 97.7L567.5 102.9L567.8 101.1L568.2 105.6L568.5 104.1L568.9 104.1L569.2 103.0L569.6 102.2L569.9 102.8L570.3 102.5L570.6 105.0L571.0 98.7L571.3 101.0L571.6 104.8L572.0 101.1L572.3 102.2L572.7 105.7L573.0 105.7L573.4 106.0L573.7 108.3L574.1 103.9L574.4 103.8L574.8 101.9L575.1 100.6L575.4 99.8L575.8 98.8L576.1 100.5L576.5 95.8L576.8 98.8L577.2 98.5L577.5 98.9L577.9 100.6L578.2 103.8L578.6 100.7L578.9 102.6L579.3 105.3L579.6 107.5L579.9 104.4L580.3 104.9L580.6 107.8L581.0 104.4L581.3 96.0L581.7 94.1L582.0 96.8L582.4 99.5L582.7 98.6L583.1 96.3L583.4 96.8L583.7 100.7L584.1 100.9L584.4 98.7L584.8 101.8L585.1 100.9L585.5 100.4L585.8 102.0L586.2 101.3L586.5 100.8L586.9 99.0L587.2 99.1L587.6 103.1L587.9 100.1L588.2 95.9L588.6 91.2L588.9 93.9L589.3 96.9L589.6 94.5L590.0 93.4L590.3 95.0L590.7 94.2L591.0 100.0L591.4 97.3L591.7 102.0L592.1 100.9L592.4 103.8L592.7 103.3L593.1 106.4L593.4 103.3L593.8 99.7L594.1 101.9L594.5 104.3L594.8 103.7L595.2 101.1L595.5 97.5L595.9 100.2L596.2 99.1L596.5 100.6L596.9 103.8L597.2 107.6L597.6 107.1L597.9 106.3L598.3 97.5L598.6 97.4L599.0 97.9L599.3 100.9L599.7 97.0L600.0 102.2L600.4 102.7L600.7 104.6L601.0 103.1L601.4 99.8L601.7 94.8L602.1 100.4L602.4 100.9L602.8 96.2L603.1 99.2L603.5 99.4L603.8 101.4L604.2 107.2L604.5 105.3L604.8 101.6L605.2 101.7L605.5 104.8L605.9 101.7L606.2 100.5L606.6 99.6L606.9 99.2L607.3 101.6L607.6 100.4L608.0 106.3L608.3 103.5L608.7 103.3L609.0 99.6L609.3 98.0L609.7 99.4L610.0 98.6L610.4 100.2L610.7 103.8L611.1 103.1L611.4 102.1L611.8 105.7L612.1 103.6L612.5 101.1L612.8 100.8L613.1 100.8L613.5 105.0L613.8 101.8L614.2 100.4L614.5 99.9L614.9 99.7L615.2 99.9L615.6 103.3L615.9 103.1L616.3 110.3L616.6 103.3L617.0 108.6L617.3 108.6L617.6 108.0L618.0 101.6L618.3 103.0L618.7 97.6L619.0 98.3L619.4 96.7L619.7 94.9L620.1 97.3L620.4 106.7L620.8 103.1L621.1 99.6L621.4 92.6L621.8 89.8L622.1 84.0L622.5 78.2L622.8 78.5L623.2 75.9L623.5 70.5L623.9 60.4L624.2 57.9L624.6 48.5L624.9 49.5L625.3 53.1L625.6 45.3L625.9 52.2L626.3 53.3L626.6 48.9L627.0 51.5L627.3 53.2L627.7 52.3L628.0 52.1L628.4 57.4L628.7 56.5L629.1 56.8L629.4 52.0L629.7 55.0L630.1 51.0L630.4 48.9L630.8 47.8L631.1 48.3L631.5 46.3L631.8 53.1L632.2 50.7L632.5 51.8L632.9 54.4L633.2 57.0L633.6 60.8L633.9 62.1L634.2 60.6L634.6 61.8L634.9 58.8L635.3 59.0L635.6 55.7L636.0 57.0L636.3 58.7L636.7 57.3L637.0 62.2L637.4 59.0L637.7 58.2L638.0 55.2L638.4 53.7L638.7 56.4L639.1 61.1L639.4 67.4L639.8 65.7L640.1 63.1L640.5 58.5L640.8 56.7L641.2 62.9L641.5 58.0L641.9 58.8L642.2 56.2L642.5 59.9L642.9 63.7L643.2 59.5L643.6 56.0L643.9 61.4L644.3 63.1L644.6 62.4L645.0 62.3L645.3 62.3L645.7 58.5L646.0 55.6L646.3 56.8L646.7 54.0L647.0 49.7L647.4 53.7L647.7 56.3L648.1 53.6L648.4 51.8L648.8 46.5L649.1 43.2L649.5 43.0L649.8 43.5L650.2 50.8L650.5 51.4L650.8 51.9L651.2 45.6L651.5 44.5L651.9 53.1L652.2 48.5L652.6 51.0L652.9 47.1L653.3 47.6L653.6 46.7L654.0 45.6L654.3 43.7L654.6 45.5L655.0 41.3L655.3 43.6L655.7 46.9L656.0 48.6L656.4 54.3L656.7 55.8L657.1 61.8L657.4 67.8L657.8 72.5L658.1 81.4L658.5 90.2L658.8 93.9L659.1 95.6L659.5 92.9L659.8 93.8L660.2 97.4L660.5 96.1L660.9 92.8L661.2 92.6L661.6 93.5L661.9 101.6L662.3 99.3L662.6 101.2L662.9 97.1L663.3 101.9L663.6 98.3L664.0 99.8L664.3 97.5L664.7 93.6L665.0 94.1L665.4 99.1L665.7 103.7L666.1 103.4L666.4 98.8L666.8 99.4L667.1 101.3L667.4 102.1L667.8 99.5L668.1 99.4L668.5 97.8L668.8 99.4L669.2 100.7L669.5 105.4L669.9 109.1L670.2 108.6L670.6 108.6L670.9 105.0" fill="none" stroke="#ff7f0e" stroke-width="1.1" stroke-linejoin="round" stroke-linecap="butt"/>
</g>
<rect x="528.4" y="167.3" width="148.88" height="39.0" rx="2.5" fill="#fff" fill-opacity="0.8" stroke="#dadada" stroke-width="0.8"/>
<line x1="533.6" y1="176.60" x2="559.6" y2="176.60" stroke="#1f77b4" stroke-width="1.1"/>
<text x="569.4" y="180.90" font-size="12.6">jump real data</text>
<line x1="533.6" y1="194.30" x2="559.6" y2="194.30" stroke="#ff7f0e" stroke-width="1.1"/>
<text x="569.4" y="198.60" font-size="12.6">jump simulated data</text>
<rect x="400.3" y="2.5" width="283.00" height="210.80" fill="none" stroke="#3a3a3a" stroke-width="0.75"/>
<line x1="412.90" y1="213.3" x2="412.90" y2="215.90" stroke="#3a3a3a" stroke-width="0.75"/>
<text x="412.90" y="226.70" font-size="13.0" text-anchor="middle">0</text>
<line x1="482.07" y1="213.3" x2="482.07" y2="215.90" stroke="#3a3a3a" stroke-width="0.75"/>
<text x="482.07" y="226.70" font-size="13.0" text-anchor="middle">10</text>
<line x1="551.24" y1="213.3" x2="551.24" y2="215.90" stroke="#3a3a3a" stroke-width="0.75"/>
<text x="551.24" y="226.70" font-size="13.0" text-anchor="middle">20</text>
<line x1="620.41" y1="213.3" x2="620.41" y2="215.90" stroke="#3a3a3a" stroke-width="0.75"/>
<text x="620.41" y="226.70" font-size="13.0" text-anchor="middle">30</text>
<line x1="397.70" y1="8.10" x2="400.3" y2="8.10" stroke="#3a3a3a" stroke-width="0.75"/>
<text x="395.60" y="12.70" font-size="13.0" text-anchor="end">1.0</text>
<line x1="397.70" y1="54.22" x2="400.3" y2="54.22" stroke="#3a3a3a" stroke-width="0.75"/>
<text x="395.60" y="58.82" font-size="13.0" text-anchor="end">0.5</text>
<line x1="397.70" y1="100.35" x2="400.3" y2="100.35" stroke="#3a3a3a" stroke-width="0.75"/>
<text x="395.60" y="104.95" font-size="13.0" text-anchor="end">0.0</text>
<line x1="397.70" y1="146.47" x2="400.3" y2="146.47" stroke="#3a3a3a" stroke-width="0.75"/>
<text x="395.60" y="151.07" font-size="13.0" text-anchor="end">−0.5</text>
<line x1="397.70" y1="192.60" x2="400.3" y2="192.60" stroke="#3a3a3a" stroke-width="0.75"/>
<text x="395.60" y="197.20" font-size="13.0" text-anchor="end">−1.0</text>
<text x="541.8" y="241.0" font-size="12.6" text-anchor="middle">time(s)</text>
<text transform="translate(367.6 108.0) rotate(-90)" font-size="12.6" text-anchor="middle">acceleration(m/s^2)</text>
<text x="544.4" y="260.8" font-size="19.4" text-anchor="middle">(b)</text>
<clipPath id="c3"><rect x="43.5" y="274.7" width="283.00" height="210.80"/></clipPath>
<g clip-path="url(#c3)">
<path d="M56.1 382.8L56.7 385.2L57.2 380.3L57.8 377.3L58.4 374.0L58.9 378.8L59.5 381.8L60.1 382.9L60.6 375.9L61.2 371.9L61.8 378.2L62.3 385.1L62.9 383.9L63.4 372.2L64.0 378.6L64.6 387.5L65.1 380.0L65.7 385.6L66.3 383.8L66.8 383.8L67.4 385.5L68.0 379.0L68.5 381.2L69.1 383.0L69.7 377.9L70.2 375.2L70.8 384.2L71.4 374.5L71.9 375.3L72.5 368.2L73.1 371.3L73.6 361.2L74.2 358.6L74.7 357.2L75.3 358.8L75.9 351.9L76.4 353.4L77.0 355.3L77.6 345.0L78.1 353.8L78.7 338.7L79.3 341.7L79.8 359.7L80.4 344.7L81.0 353.8L81.5 346.2L82.1 346.2L82.7 359.6L83.2 348.0L83.8 348.1L84.3 340.0L84.9 354.2L85.5 341.4L86.0 353.6L86.6 348.5L87.2 351.9L87.7 336.7L88.3 342.5L88.9 330.1L89.4 342.0L90.0 340.6L90.6 340.6L91.1 350.2L91.7 346.6L92.3 337.2L92.8 348.7L93.4 344.8L94.0 346.2L94.5 342.0L95.1 348.4L95.7 347.0L96.2 344.4L96.8 345.3L97.3 352.0L97.9 340.5L98.5 355.3L99.0 355.0L99.6 355.7L100.2 341.1L100.7 352.8L101.3 359.9L101.9 363.9L102.4 356.5L103.0 369.3L103.6 373.7L104.1 364.1L104.7 379.1L105.3 376.3L105.8 377.1L106.4 380.0L107.0 377.5L107.5 368.2L108.1 380.5L108.6 385.5L109.2 389.3L109.8 378.5L110.3 379.5L110.9 375.4L111.5 380.2L112.0 380.4L112.6 382.0L113.2 380.6L113.7 376.1L114.3 379.7L114.9 376.6L115.4 364.6L116.0 374.1L116.6 387.7L117.1 365.8L117.7 375.0L118.2 383.5L118.8 371.3L119.4 377.2L119.9 381.4L120.5 381.5L121.1 383.9L121.6 377.0L122.2 370.3L122.8 379.5L123.3 374.6L123.9 364.9L124.5 385.4L125.0 375.7L125.6 379.4L126.2 384.4L126.7 384.2L127.3 377.5L127.9 374.6L128.4 381.0L129.0 377.1L129.6 372.7L130.1 375.5L130.7 371.7L131.2 374.4L131.8 374.3L132.4 365.4L132.9 373.4L133.5 376.7L134.1 372.8L134.6 383.6L135.2 379.8L135.8 372.3L136.3 373.4L136.9 367.3L137.5 377.5L138.0 387.3L138.6 364.7L139.2 370.4L139.7 384.6L140.3 368.5L140.8 377.4L141.4 389.7L142.0 380.4L142.5 381.0L143.1 367.1L143.7 382.9L144.2 379.4L144.8 379.5L145.4 380.2L145.9 383.8L146.5 376.3L147.1 370.6L147.6 373.6L148.2 383.9L148.8 385.4L149.3 377.0L149.9 382.5L150.5 382.0L151.0 388.9L151.6 364.9L152.2 371.7L152.7 384.3L153.3 371.8L153.8 369.0L154.4 393.7L155.0 381.5L155.5 380.5L156.1 373.6L156.7 378.7L157.2 379.4L157.8 378.3L158.4 365.6L158.9 363.6L159.5 381.4L160.1 384.1L160.6 361.4L161.2 384.5L161.8 381.8L162.3 377.7L162.9 374.8L163.5 371.2L164.0 375.4L164.6 383.8L165.1 374.7L165.7 376.4L166.3 365.6L166.8 378.2L167.4 386.9L168.0 385.0L168.5 368.5L169.1 381.7L169.7 392.1L170.2 382.0L170.8 378.1L171.4 370.2L171.9 384.8L172.5 373.7L173.1 372.8L173.6 382.7L174.2 379.3L174.8 366.4L175.3 366.7L175.9 372.4L176.4 375.9L177.0 370.6L177.6 379.0L178.1 378.7L178.7 383.8L179.3 378.1L179.8 378.6L180.4 361.5L181.0 379.4L181.5 369.7L182.1 369.3L182.7 379.3L183.2 370.3L183.8 392.5L184.4 377.5L184.9 372.4L185.5 394.0L186.1 385.8L186.6 371.1L187.2 379.8L187.7 385.4L188.3 380.6L188.9 381.7L189.4 373.3L190.0 375.1L190.6 380.0L191.1 382.5L191.7 378.5L192.3 369.3L192.8 375.8L193.4 373.9L194.0 379.1L194.5 386.7L195.1 382.8L195.7 373.8L196.2 377.4L196.8 384.1L197.3 388.8L197.9 377.4L198.5 380.4L199.0 380.4L199.6 380.3L200.2 376.2L200.7 376.1L201.3 371.7L201.9 371.9L202.4 369.3L203.0 372.8L203.6 380.3L204.1 378.4L204.7 374.7L205.3 380.1L205.8 374.3L206.4 370.3L207.0 383.2L207.5 389.6L208.1 370.0L208.7 377.7L209.2 373.1L209.8 386.6L210.3 366.3L210.9 372.8L211.5 378.6L212.0 380.0L212.6 376.9L213.2 378.7L213.7 379.5L214.3 385.0L214.9 369.2L215.4 377.8L216.0 377.0L216.6 376.9L217.1 393.1L217.7 373.9L218.3 379.6L218.8 379.3L219.4 376.9L220.0 383.8L220.5 371.7L221.1 381.9L221.6 383.2L222.2 382.9L222.8 376.2L223.3 372.2L223.9 381.1L224.5 387.1L225.0 370.1L225.6 384.1L226.2 369.1L226.7 377.4L227.3 381.7L227.9 381.3L228.4 374.0L229.0 371.1L229.6 378.3L230.1 370.7L230.7 363.1L231.2 378.4L231.8 384.6L232.4 383.9L232.9 386.2L233.5 381.2L234.1 381.7L234.6 385.7L235.2 373.4L235.8 393.5L236.3 385.6L236.9 363.5L237.5 370.0L238.0 373.4L238.6 373.8L239.2 365.1L239.7 373.3L240.3 376.3L240.9 384.9L241.4 377.3L242.0 381.6L242.6 381.4L243.1 381.5L243.7 377.0L244.2 378.9L244.8 370.9L245.4 385.5L245.9 377.8L246.5 364.4L247.1 376.4L247.6 368.7L248.2 369.1L248.8 367.9L249.3 371.7L249.9 385.8L250.5 378.4L251.0 379.1L251.6 386.9L252.2 379.7L252.7 384.9L253.3 386.8L253.8 373.6L254.4 374.6L255.0 360.8L255.5 379.0L256.1 375.6L256.7 376.1L257.2 377.7L257.8 376.9L258.4 381.0L258.9 377.4L259.5 378.5L260.1 381.5L260.6 390.1L261.2 391.7L261.8 386.8L262.3 392.8L262.9 393.7L263.5 411.1L264.0 413.0L264.6 397.0L265.2 399.0L265.7 393.7L266.3 399.2L266.8 403.5L267.4 406.1L268.0 416.1L268.5 403.4L269.1 413.6L269.7 408.2L270.2 410.3L270.8 410.1L271.4 406.7L271.9 415.2L272.5 414.8L273.1 417.9L273.6 415.3L274.2 403.5L274.8 415.7L275.3 406.8L275.9 409.2L276.5 410.1L277.0 409.9L277.6 420.7L278.1 412.8L278.7 406.0L279.3 419.3L279.8 415.7L280.4 419.5L281.0 413.9L281.5 422.0L282.1 406.9L282.7 418.3L283.2 425.1L283.8 404.2L284.4 406.7L284.9 407.1L285.5 405.0L286.1 407.6L286.6 404.8L287.2 397.8L287.8 394.9L288.3 392.9L288.9 394.4L289.4 395.6L290.0 392.3L290.6 384.3L291.1 380.9L291.7 386.7L292.3 385.2L292.8 377.1L293.4 378.5L294.0 377.8L294.5 385.2L295.1 380.5L295.7 380.2L296.2 377.3L296.8 385.1L297.4 373.0L297.9 377.0L298.5 376.5L299.1 383.2L299.6 378.5L300.2 373.0L300.7 384.9L301.3 377.3L301.9 375.7L302.4 381.4L303.0 375.3L303.6 380.0L304.1 373.7L304.7 376.6L305.3 377.9L305.8 370.7L306.4 375.5L307.0 373.6L307.5 383.8L308.1 381.7L308.7 375.7L309.2 375.6L310.1 304.2L311.3 476.0L312.6 283.8L313.7 430.1" fill="none" stroke="#1f77b4" stroke-width="1.1" stroke-linejoin="round" stroke-linecap="butt"/>
<path d="M56.1 383.0L56.7 381.4L57.2 382.1L57.8 379.4L58.4 379.4L58.9 378.5L59.5 380.2L60.1 381.1L60.6 378.8L61.2 375.3L61.8 378.2L62.3 380.7L62.9 378.9L63.4 380.0L64.0 378.2L64.6 378.2L65.1 381.7L65.7 383.1L66.3 380.6L66.8 382.4L67.4 381.7L68.0 381.1L68.5 383.2L69.1 381.9L69.7 378.1L70.2 378.6L70.8 375.4L71.4 373.9L71.9 373.7L72.5 370.0L73.1 368.2L73.6 363.1L74.2 361.4L74.7 357.6L75.3 353.6L75.9 351.3L76.4 346.9L77.0 346.6L77.6 347.1L78.1 345.9L78.7 346.5L79.3 347.9L79.8 346.6L80.4 346.7L81.0 346.0L81.5 345.7L82.1 346.4L82.7 347.1L83.2 346.7L83.8 346.3L84.3 346.9L84.9 346.9L85.5 346.9L86.0 346.9L86.6 348.3L87.2 347.3L87.7 346.3L88.3 345.4L88.9 344.7L89.4 344.6L90.0 345.2L90.6 345.6L91.1 346.0L91.7 346.2L92.3 346.2L92.8 345.1L93.4 346.2L94.0 347.0L94.5 347.3L95.1 345.7L95.7 345.9L96.2 346.1L96.8 346.6L97.3 346.8L97.9 348.3L98.5 348.1L99.0 348.0L99.6 350.1L100.2 350.9L100.7 353.7L101.3 355.7L101.9 358.5L102.4 361.0L103.0 363.7L103.6 364.5L104.1 369.4L104.7 374.4L105.3 376.2L105.8 378.9L106.4 377.4L107.0 375.4L107.5 379.0L108.1 381.5L108.6 381.4L109.2 382.8L109.8 383.0L110.3 381.1L110.9 380.9L111.5 379.5L112.0 378.3L112.6 377.8L113.2 378.1L113.7 379.0L114.3 379.4L114.9 373.6L115.4 371.3L116.0 375.3L116.6 372.8L117.1 375.3L117.7 378.5L118.2 377.8L118.8 379.1L119.4 378.6L119.9 379.9L120.5 382.8L121.1 386.0L121.6 379.1L122.2 377.5L122.8 375.4L123.3 373.1L123.9 377.2L124.5 376.0L125.0 377.2L125.6 381.5L126.2 381.0L126.7 381.0L127.3 377.9L127.9 380.0L128.4 377.6L129.0 377.3L129.6 378.6L130.1 378.7L130.7 375.2L131.2 376.3L131.8 374.0L132.4 372.8L132.9 374.6L133.5 373.4L134.1 377.2L134.6 377.4L135.2 375.5L135.8 377.6L136.3 372.6L136.9 372.7L137.5 376.2L138.0 374.7L138.6 374.3L139.2 378.0L139.7 372.9L140.3 374.1L140.8 379.5L141.4 376.1L142.0 381.3L142.5 378.9L143.1 378.3L143.7 378.7L144.2 379.3L144.8 382.0L145.4 381.4L145.9 381.3L146.5 377.4L147.1 374.1L147.6 377.2L148.2 377.7L148.8 379.2L149.3 381.2L149.9 377.8L150.5 378.8L151.0 377.3L151.6 375.7L152.2 379.7L152.7 373.7L153.3 375.6L153.8 379.8L154.4 378.9L155.0 379.6L155.5 378.6L156.1 375.5L156.7 374.9L157.2 376.3L157.8 374.5L158.4 370.7L158.9 373.9L159.5 372.0L160.1 373.0L160.6 379.5L161.2 376.6L161.8 373.0L162.3 378.7L162.9 377.0L163.5 371.2L164.0 374.4L164.6 378.0L165.1 379.2L165.7 373.6L166.3 372.3L166.8 375.0L167.4 376.3L168.0 377.3L168.5 379.6L169.1 383.2L169.7 381.1L170.2 384.5L170.8 381.2L171.4 376.8L171.9 375.2L172.5 374.8L173.1 377.9L173.6 376.0L174.2 373.8L174.8 375.0L175.3 372.1L175.9 368.9L176.4 370.0L177.0 374.8L177.6 377.1L178.1 381.2L178.7 382.4L179.3 378.8L179.8 375.5L180.4 375.7L181.0 374.1L181.5 371.6L182.1 375.3L182.7 373.5L183.2 379.3L183.8 379.6L184.4 376.1L184.9 383.2L185.5 382.6L186.1 379.3L186.6 383.5L187.2 381.7L187.7 380.3L188.3 381.9L188.9 380.6L189.4 379.2L190.0 377.9L190.6 379.5L191.1 382.1L191.7 381.9L192.3 377.8L192.8 377.6L193.4 375.7L194.0 378.3L194.5 379.1L195.1 379.9L195.7 380.5L196.2 379.5L196.8 381.6L197.3 383.7L197.9 381.6L198.5 382.3L199.0 377.5L199.6 377.5L200.2 378.0L200.7 375.6L201.3 372.4L201.9 373.7L202.4 373.7L203.0 376.2L203.6 376.4L204.1 376.6L204.7 378.2L205.3 377.9L205.8 376.3L206.4 376.1L207.0 377.2L207.5 377.1L208.1 381.1L208.7 377.4L209.2 376.4L209.8 375.5L210.3 372.4L210.9 373.9L211.5 374.8L212.0 378.5L212.6 377.3L213.2 377.8L213.7 378.2L214.3 377.4L214.9 378.8L215.4 377.3L216.0 373.3L216.6 379.2L217.1 380.6L217.7 381.2L218.3 381.9L218.8 377.5L219.4 378.2L220.0 374.4L220.5 376.3L221.1 379.2L221.6 379.1L222.2 380.3L222.8 378.7L223.3 378.0L223.9 378.8L224.5 378.9L225.0 380.1L225.6 377.8L226.2 376.7L226.7 377.9L227.3 377.8L227.9 376.2L228.4 375.1L229.0 375.1L229.6 374.2L230.1 372.0L230.7 372.1L231.2 374.8L231.8 376.5L232.4 384.8L232.9 384.0L233.5 381.8L234.1 382.0L234.6 379.6L235.2 381.2L235.8 383.9L236.3 380.1L236.9 378.4L237.5 372.0L238.0 369.4L238.6 370.6L239.2 371.2L239.7 371.5L240.3 376.1L240.9 382.0L241.4 383.0L242.0 384.4L242.6 382.5L243.1 382.7L243.7 381.8L244.2 377.6L244.8 378.0L245.4 378.1L245.9 372.5L246.5 375.4L247.1 372.4L247.6 368.6L248.2 371.6L248.8 372.4L249.3 373.2L249.9 375.1L250.5 377.2L251.0 380.3L251.6 378.4L252.2 381.4L252.7 383.6L253.3 381.7L253.8 379.4L254.4 377.2L255.0 376.0L255.5 375.2L256.1 371.3L256.7 376.1L257.2 375.4L257.8 376.2L258.4 376.2L258.9 378.9L259.5 378.7L260.1 380.9L260.6 385.3L261.2 388.1L261.8 390.5L262.3 390.4L262.9 394.5L263.5 398.4L264.0 402.0L264.6 403.3L265.2 401.0L265.7 396.9L266.3 398.8L266.8 401.7L267.4 408.3L268.0 409.4L268.5 410.5L269.1 408.8L269.7 407.7L270.2 411.3L270.8 409.8L271.4 410.9L271.9 411.9L272.5 413.4L273.1 414.3L273.6 411.9L274.2 413.5L274.8 413.3L275.3 411.1L275.9 413.9L276.5 411.3L277.0 413.1L277.6 415.5L278.1 413.8L278.7 415.8L279.3 411.7L279.8 413.6L280.4 418.7L281.0 418.0L281.5 415.3L282.1 415.6L282.7 418.6L283.2 414.0L283.8 412.1L284.4 408.9L284.9 406.1L285.5 406.7L286.1 407.7L286.6 406.2L287.2 402.9L287.8 399.6L288.3 396.4L288.9 391.5L289.4 391.3L290.0 391.2L290.6 390.6L291.1 388.1L291.7 387.0L292.3 386.2L292.8 383.1L293.4 381.9L294.0 380.5L294.5 378.6L295.1 378.5L295.7 378.0L296.2 378.2L296.8 378.3L297.4 378.7L297.9 378.6L298.5 377.9L299.1 378.5L299.6 379.0L300.2 379.6L300.7 379.5L301.3 379.0L301.9 378.8L302.4 378.3L303.0 378.1L303.6 378.4L304.1 378.0L304.7 378.3L305.3 377.8L305.8 379.0L306.4 378.1L307.0 379.1L307.5 379.8L308.1 379.1L308.7 379.3L309.2 379.1L310.1 379.1L311.3 446.4L312.6 338.3L313.7 380.7" fill="none" stroke="#ff7f0e" stroke-width="1.1" stroke-linejoin="round" stroke-linecap="butt"/>
</g>
<rect x="49.6" y="280.8" width="141.17" height="39.0" rx="2.5" fill="#fff" fill-opacity="0.8" stroke="#dadada" stroke-width="0.8"/>
<line x1="54.800000000000004" y1="290.10" x2="80.8" y2="290.10" stroke="#1f77b4" stroke-width="1.1"/>
<text x="90.6" y="294.40" font-size="12.6">star real data</text>
<line x1="54.800000000000004" y1="307.80" x2="80.8" y2="307.80" stroke="#ff7f0e" stroke-width="1.1"/>
<text x="90.6" y="312.10" font-size="12.6">star simulated data</text>
<rect x="43.5" y="274.7" width="283.00" height="210.80" fill="none" stroke="#3a3a3a" stroke-width="0.75"/>
<line x1="56.10" y1="485.5" x2="56.10" y2="488.10" stroke="#3a3a3a" stroke-width="0.75"/>
<text x="56.10" y="498.90" font-size="13.0" text-anchor="middle">0</text>
<line x1="112.60" y1="485.5" x2="112.60" y2="488.10" stroke="#3a3a3a" stroke-width="0.75"/>
<text x="112.60" y="498.90" font-size="13.0" text-anchor="middle">5</text>
<line x1="169.10" y1="485.5" x2="169.10" y2="488.10" stroke="#3a3a3a" stroke-width="0.75"/>
<text x="169.10" y="498.90" font-size="13.0" text-anchor="middle">10</text>
<line x1="225.60" y1="485.5" x2="225.60" y2="488.10" stroke="#3a3a3a" stroke-width="0.75"/>
<text x="225.60" y="498.90" font-size="13.0" text-anchor="middle">15</text>
<line x1="282.10" y1="485.5" x2="282.10" y2="488.10" stroke="#3a3a3a" stroke-width="0.75"/>
<text x="282.10" y="498.90" font-size="13.0" text-anchor="middle">20</text>
<line x1="40.90" y1="276.10" x2="43.5" y2="276.10" stroke="#3a3a3a" stroke-width="0.75"/>
<text x="38.80" y="280.70" font-size="13.0" text-anchor="end">2</text>
<line x1="40.90" y1="327.10" x2="43.5" y2="327.10" stroke="#3a3a3a" stroke-width="0.75"/>
<text x="38.80" y="331.70" font-size="13.0" text-anchor="end">1</text>
<line x1="40.90" y1="378.10" x2="43.5" y2="378.10" stroke="#3a3a3a" stroke-width="0.75"/>
<text x="38.80" y="382.70" font-size="13.0" text-anchor="end">0</text>
<line x1="40.90" y1="429.10" x2="43.5" y2="429.10" stroke="#3a3a3a" stroke-width="0.75"/>
<text x="38.80" y="433.70" font-size="13.0" text-anchor="end">−1</text>
<line x1="40.90" y1="480.10" x2="43.5" y2="480.10" stroke="#3a3a3a" stroke-width="0.75"/>
<text x="38.80" y="484.70" font-size="13.0" text-anchor="end">−2</text>
<text x="185" y="513.2" font-size="12.6" text-anchor="middle">time(s)</text>
<text transform="translate(20.5 379.7) rotate(-90)" font-size="12.6" text-anchor="middle">acceleration(m/s^2)</text>
<text x="180.3" y="534.7" font-size="19.4" text-anchor="middle">(c)</text>
<clipPath id="c4"><rect x="400.3" y="274.7" width="283.00" height="210.80"/></clipPath>
<g clip-path="url(#c4)">
<path d="M412.8 370.6L413.7 352.6L414.5 362.4L415.4 360.0L416.3 359.2L417.2 367.0L418.0 356.1L418.9 362.4L419.8 347.3L420.7 365.3L421.5 361.2L422.4 359.7L423.3 361.5L424.2 362.4L425.0 358.7L425.9 356.3L426.8 361.4L427.7 354.1L428.5 360.3L429.4 355.3L430.3 347.5L431.2 353.9L432.0 355.0L432.9 349.6L433.8 345.6L434.7 340.5L435.5 353.8L436.4 348.5L437.3 342.8L438.2 354.2L439.0 347.1L439.9 343.0L440.8 347.0L441.6 348.4L442.5 344.6L443.4 360.7L444.3 336.1L445.1 354.0L446.0 352.8L446.9 342.3L447.8 344.9L448.6 351.2L449.5 351.6L450.4 345.1L451.3 348.1L452.1 341.3L453.0 347.7L453.9 348.8L454.8 343.4L455.6 351.7L456.5 352.0L457.4 343.9L458.3 347.8L459.1 351.9L460.0 353.2L460.9 347.7L461.8 362.8L462.6 342.7L463.5 351.3L464.4 360.9L465.3 348.9L466.1 357.7L467.0 348.1L467.9 364.8L468.7 354.0L469.6 349.6L470.5 351.6L471.4 367.7L472.2 353.4L473.1 353.8L474.0 360.1L474.9 348.8L475.7 366.2L476.6 353.7L477.5 363.4L478.4 349.6L479.2 361.2L480.1 359.7L481.0 364.8L481.9 347.1L482.7 358.6L483.6 356.6L484.5 354.9L485.4 359.2L486.2 361.9L487.1 360.4L488.0 360.1L488.9 350.7L489.7 367.8L490.6 357.9L491.5 358.6L492.4 356.8L493.2 356.5L494.1 365.3L495.0 363.4L495.8 354.9L496.7 353.4L497.6 358.0L498.5 359.4L499.3 360.6L500.2 356.8L501.1 360.5L502.0 354.7L502.8 364.0L503.7 356.5L504.6 359.6L505.5 356.2L506.3 359.0L507.2 348.2L508.1 357.8L509.0 355.6L509.8 371.0L510.7 355.9L511.6 360.7L512.5 355.2L513.3 369.9L514.2 348.7L515.1 356.7L516.0 366.8L516.8 360.3L517.7 360.2L518.6 356.9L519.5 356.2L520.3 351.3L521.2 364.2L522.1 355.1L522.9 359.9L523.8 351.5L524.7 359.5L525.6 354.5L526.4 366.6L527.3 357.4L528.2 362.0L529.1 350.6L529.9 359.3L530.8 361.7L531.7 360.2L532.6 355.8L533.4 363.0L534.3 361.5L535.2 354.8L536.1 349.2L536.9 365.4L537.8 360.8L538.7 362.8L539.6 362.2L540.4 353.8L541.3 356.4L542.2 360.8L543.1 357.5L543.9 359.2L544.8 358.6L545.7 365.9L546.6 357.6L547.4 357.5L548.3 362.6L549.2 359.4L550.0 361.5L550.9 358.7L551.8 354.6L552.7 362.6L553.5 358.8L554.4 355.1L555.3 358.0L556.2 353.0L557.0 371.7L557.9 350.7L558.8 363.0L559.7 357.4L560.5 355.7L561.4 356.1L562.3 356.9L563.2 360.6L564.0 352.4L564.9 363.8L565.8 359.1L566.7 355.3L567.5 363.2L568.4 348.5L569.3 359.3L570.2 351.8L571.0 363.9L571.9 360.7L572.8 357.5L573.7 356.3L574.5 363.3L575.4 356.2L576.3 360.0L577.1 352.0L578.0 365.5L578.9 353.1L579.8 364.2L580.6 361.9L581.5 360.1L582.4 362.8L583.3 355.9L584.1 355.0L585.0 360.7L585.9 356.8L586.8 353.4L587.6 361.5L588.5 358.9L589.4 360.8L590.3 365.6L591.1 352.4L592.0 368.5L592.9 352.5L593.8 360.7L594.6 354.3L595.5 362.0L596.4 362.6L597.3 355.9L598.1 362.4L599.0 358.8L599.9 358.6L600.8 359.9L601.6 359.8L602.5 362.4L603.4 358.2L604.2 368.1L605.1 355.3L606.0 364.1L606.9 351.8L607.7 356.2L608.6 370.5L609.5 354.4L610.4 360.1L611.2 363.6L612.1 354.7L613.0 362.4L613.9 366.0L614.7 356.6L615.6 359.3L616.1 360.6L617.1 357.5L617.9 396.5L618.7 442.6L619.4 424.7L620.3 475.7L621.0 440.1L621.7 463.2L622.8 409.3L623.8 345.2L624.8 284.1L625.8 352.9L627.0 406.0L628.1 347.7L629.5 303.1L630.2 368.5L631.9 350.3L633.0 363.1L634.0 334.4L635.7 370.1L636.7 355.4L637.5 349.0L638.3 363.7L639.2 358.9L640.1 363.4L641.0 360.4L641.8 355.2L642.7 356.2L643.6 358.1L644.5 355.7L645.3 358.8L646.2 360.7L647.1 355.7L648.0 358.5L648.8 361.0L649.7 355.9L650.6 355.3L651.5 361.1L652.3 361.3L653.2 355.4L654.1 352.6L655.0 364.3L655.8 359.2L656.7 359.7L657.6 353.7L658.5 370.0L659.3 353.7L660.2 354.9L661.1 365.4L661.9 351.0L662.8 360.2L663.7 362.8L664.6 357.2L665.4 366.4L666.3 358.4L667.2 350.1L668.1 367.2L668.9 349.3L669.8 363.7" fill="none" stroke="#1f77b4" stroke-width="1.1" stroke-linejoin="round" stroke-linecap="butt"/>
<path d="M412.8 360.3L413.7 360.0L414.5 360.2L415.4 359.7L416.3 360.2L417.2 360.2L418.0 360.6L418.9 359.7L419.8 359.7L420.7 360.3L421.5 360.2L422.4 360.4L423.3 360.3L424.2 359.8L425.0 359.1L425.9 359.1L426.8 359.1L427.7 359.2L428.5 357.7L429.4 355.5L430.3 354.2L431.2 352.6L432.0 351.3L432.9 349.9L433.8 348.2L434.7 348.1L435.5 348.4L436.4 348.6L437.3 349.2L438.2 348.9L439.0 348.7L439.9 348.4L440.8 347.9L441.6 346.7L442.5 347.4L443.4 347.1L444.3 347.1L445.1 347.5L446.0 346.9L446.9 347.1L447.8 347.4L448.6 348.4L449.5 348.2L450.4 348.5L451.3 347.5L452.1 347.6L453.0 348.2L453.9 347.4L454.8 348.3L455.6 348.5L456.5 347.8L457.4 348.5L458.3 349.0L459.1 349.4L460.0 349.7L460.9 351.2L461.8 350.9L462.6 351.1L463.5 351.5L464.4 351.4L465.3 353.0L466.1 353.0L467.0 353.7L467.9 354.2L468.7 354.1L469.6 354.3L470.5 355.1L471.4 355.4L472.2 356.8L473.1 357.6L474.0 356.4L474.9 357.5L475.7 358.0L476.6 358.7L477.5 358.5L478.4 358.1L479.2 358.8L480.1 358.5L481.0 358.3L481.9 357.9L482.7 358.0L483.6 357.0L484.5 357.6L485.4 357.9L486.2 358.3L487.1 358.7L488.0 358.1L488.9 358.5L489.7 358.1L490.6 358.0L491.5 358.0L492.4 357.4L493.2 358.0L494.1 359.0L495.0 358.8L495.8 358.4L496.7 358.1L497.6 357.8L498.5 358.4L499.3 358.7L500.2 359.2L501.1 358.4L502.0 358.6L502.8 358.8L503.7 359.2L504.6 359.2L505.5 358.4L506.3 357.9L507.2 358.1L508.1 357.6L509.0 357.9L509.8 358.1L510.7 358.2L511.6 358.0L512.5 358.1L513.3 357.7L514.2 358.0L515.1 358.2L516.0 357.9L516.8 358.0L517.7 358.9L518.6 358.2L519.5 357.6L520.3 358.0L521.2 357.9L522.1 358.0L522.9 357.9L523.8 358.0L524.7 358.1L525.6 358.2L526.4 358.2L527.3 358.5L528.2 358.4L529.1 358.1L529.9 358.1L530.8 358.5L531.7 359.2L532.6 359.3L533.4 359.6L534.3 359.4L535.2 359.0L536.1 358.9L536.9 359.1L537.8 359.2L538.7 360.4L539.6 359.5L540.4 359.7L541.3 359.8L542.2 359.2L543.1 359.5L543.9 359.7L544.8 360.0L545.7 359.7L546.6 359.5L547.4 359.7L548.3 359.0L549.2 359.4L550.0 359.6L550.9 359.3L551.8 359.0L552.7 358.6L553.5 358.1L554.4 358.4L555.3 358.1L556.2 358.5L557.0 358.6L557.9 358.6L558.8 358.7L559.7 358.3L560.5 358.6L561.4 358.4L562.3 358.1L563.2 357.2L564.0 357.9L564.9 358.2L565.8 358.8L566.7 359.3L567.5 358.5L568.4 358.9L569.3 358.4L570.2 358.9L571.0 359.5L571.9 359.3L572.8 359.8L573.7 359.4L574.5 358.8L575.4 359.4L576.3 359.6L577.1 359.4L578.0 359.1L578.9 359.7L579.8 360.1L580.6 359.8L581.5 360.2L582.4 359.5L583.3 359.0L584.1 358.5L585.0 357.9L585.9 357.7L586.8 357.9L587.6 357.6L588.5 357.8L589.4 359.1L590.3 358.5L591.1 359.1L592.0 358.3L592.9 358.2L593.8 358.3L594.6 358.1L595.5 358.2L596.4 358.1L597.3 358.8L598.1 358.7L599.0 358.8L599.9 359.0L600.8 359.0L601.6 359.1L602.5 358.6L603.4 359.3L604.2 359.2L605.1 359.4L606.0 358.9L606.9 358.8L607.7 359.8L608.6 359.2L609.5 359.5L610.4 359.8L611.2 359.2L612.1 359.9L613.0 359.9L613.9 359.1L614.6 359.5L616.1 368.3L617.4 387.8L618.5 434.9L619.7 427.3L620.7 434.9L621.7 419.6L622.8 378.5L623.8 342.6L624.9 324.4L626.1 347.7L627.3 372.9L628.4 360.6L629.5 352.1L630.6 350.0L631.9 358.0L633.0 352.9L634.0 344.9L635.1 355.4L636.7 359.3L637.5 359.9L638.3 359.4L639.2 359.1L640.1 359.7L641.0 358.9L641.8 359.2L642.7 358.9L643.6 358.2L644.5 358.1L645.3 359.2L646.2 360.1L647.1 360.3L648.0 359.9L648.8 359.6L649.7 359.6L650.6 359.4L651.5 359.6L652.3 359.4L653.2 359.0L654.1 359.0L655.0 358.8L655.8 359.2L656.7 359.1L657.6 359.6L658.5 358.9L659.3 357.9L660.2 359.0L661.1 358.8L661.9 359.2L662.8 359.5L663.7 358.7L664.6 359.2L665.4 359.5L666.3 359.1L667.2 359.2L668.1 358.8L668.9 358.7L669.8 359.5" fill="none" stroke="#ff7f0e" stroke-width="1.1" stroke-linejoin="round" stroke-linecap="butt"/>
</g>
<rect x="406.4" y="280.9" width="171.26" height="39.0" rx="2.5" fill="#fff" fill-opacity="0.8" stroke="#dadada" stroke-width="0.8"/>
<line x1="411.59999999999997" y1="290.20" x2="437.59999999999997" y2="290.20" stroke="#1f77b4" stroke-width="1.1"/>
<text x="447.4" y="294.50" font-size="12.6">acuteness real data</text>
<line x1="411.59999999999997" y1="307.90" x2="437.59999999999997" y2="307.90" stroke="#ff7f0e" stroke-width="1.1"/>
<text x="447.4" y="312.20" font-size="12.6">acuteness simulated data</text>
<rect x="400.3" y="274.7" width="283.00" height="210.80" fill="none" stroke="#3a3a3a" stroke-width="0.75"/>
<line x1="412.80" y1="485.5" x2="412.80" y2="488.10" stroke="#3a3a3a" stroke-width="0.75"/>
<text x="412.80" y="498.90" font-size="13.0" text-anchor="middle">0</text>
<line x1="485.65" y1="485.5" x2="485.65" y2="488.10" stroke="#3a3a3a" stroke-width="0.75"/>
<text x="485.65" y="498.90" font-size="13.0" text-anchor="middle">5</text>
<line x1="558.50" y1="485.5" x2="558.50" y2="488.10" stroke="#3a3a3a" stroke-width="0.75"/>
<text x="558.50" y="498.90" font-size="13.0" text-anchor="middle">10</text>
<line x1="631.35" y1="485.5" x2="631.35" y2="488.10" stroke="#3a3a3a" stroke-width="0.75"/>
<text x="631.35" y="498.90" font-size="13.0" text-anchor="middle">15</text>
<line x1="397.70" y1="306.70" x2="400.3" y2="306.70" stroke="#3a3a3a" stroke-width="0.75"/>
<text x="395.60" y="311.30" font-size="13.0" text-anchor="end">2</text>
<line x1="397.70" y1="358.00" x2="400.3" y2="358.00" stroke="#3a3a3a" stroke-width="0.75"/>
<text x="395.60" y="362.60" font-size="13.0" text-anchor="end">0</text>
<line x1="397.70" y1="409.30" x2="400.3" y2="409.30" stroke="#3a3a3a" stroke-width="0.75"/>
<text x="395.60" y="413.90" font-size="13.0" text-anchor="end">−2</text>
<line x1="397.70" y1="460.60" x2="400.3" y2="460.60" stroke="#3a3a3a" stroke-width="0.75"/>
<text x="395.60" y="465.20" font-size="13.0" text-anchor="end">−4</text>
<text x="541.8" y="513.2" font-size="12.6" text-anchor="middle">time(s)</text>
<text transform="translate(378.2 379.7) rotate(-90)" font-size="12.6" text-anchor="middle">acceleration(m/s^2)</text>
<text x="537.3" y="534.4" font-size="19.4" text-anchor="middle">(d)</text>
</svg></body></html>
